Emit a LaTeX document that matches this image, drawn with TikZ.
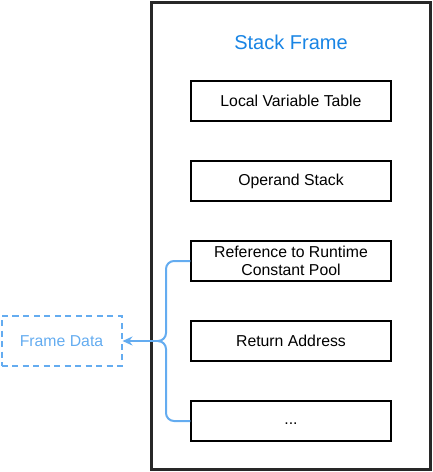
\documentclass[tikz,border=0pt]{standalone}
\usepackage{fontspec}
\setmainfont{Liberation Sans}
\usetikzlibrary{arrows.meta}
\definecolor{lblue}{RGB}{100,172,240}
\definecolor{tblue}{RGB}{24,132,228}
\definecolor{frameborder}{RGB}{40,40,40}
\begin{document}
\begin{tikzpicture}[x=1pt,y=-1pt,
  itembox/.style={draw=black,line width=1.4pt,minimum width=200pt,minimum height=40pt,inner sep=0pt,font=\fontsize{15.8}{17.8}\selectfont,align=center},
  linkline/.style={draw=lblue,line width=2pt,rounded corners=8pt}]
\useasboundingbox (0,0) rectangle (432,472);
\node[draw=frameborder,line width=2.4pt,minimum width=279pt,minimum height=467pt,inner sep=0pt] (frame) at (291,236) {};
\node[text=tblue,font=\fontsize{20}{22}\selectfont] (title) at (291,42) {Stack Frame};
\node[itembox] (lvt) at (291,101) {Local Variable Table};
\node[itembox] (ops) at (291,181) {Operand Stack};
\node[itembox] (ref) at (291,261) {Reference to Runtime\\Constant Pool};
\node[itembox] (ret) at (291,341) {Return Address};
\node[itembox] (dots) at (291,421) {\strut...};
\node[draw=lblue,dash pattern=on 6pt off 4.5pt,line width=2pt,minimum width=120pt,minimum height=50pt,inner sep=0pt,text=lblue,font=\fontsize{15.8}{17.8}\selectfont] (fd) at (61.5,341) {Frame Data};
\coordinate (join) at (162,341);
\draw[linkline] (ref.west) -- (166,261) -- (166,341) -- (join);
\draw[linkline] (dots.west) -- (166,421) -- (166,341) -- (join);
\draw[draw=lblue,line width=2pt,-{Stealth[length=10pt,width=9pt]}] (join) -- (fd.east);
\end{tikzpicture}
\end{document}
